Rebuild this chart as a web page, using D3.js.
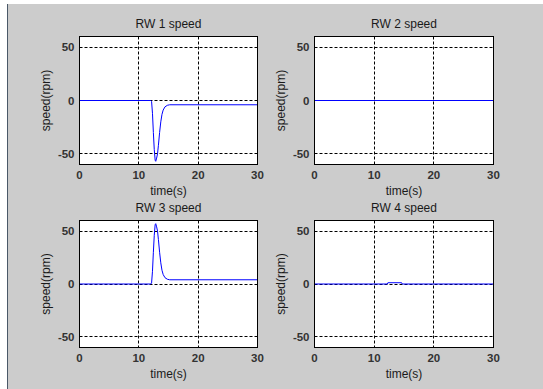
<!DOCTYPE html>
<html>
<head>
<meta charset="utf-8">
<script src="https://cdn.jsdelivr.net/npm/d3@7"></script>
<style>
  body { margin: 0; background: #fff; }
  svg { display: block; }
  text { font-family: "Liberation Sans", Arial, sans-serif; fill: #1a1a1a; }
</style>
</head>
<body>
<script>
// reaction wheel speeds (rpm vs s)
var titles = ["RW 1 speed", "RW 2 speed", "RW 3 speed", "RW 4 speed"];
var xTicks = [0, 10, 20, 30];
var yTicks = [-50, 0, 50];

var rw1Time  = [0, 12.0, 12.15, 12.3, 12.45, 12.6, 12.75, 12.85, 13.0, 13.15, 13.3, 13.5, 13.7, 13.9, 14.1, 14.4, 14.8, 15.2, 30];
var rw1Speed = [0, 0, -1, -12, -30, -46, -56, -57, -54, -50, -42, -30, -20, -13, -9, -6, -4.5, -4, -4];

var rw2Time  = [0, 30];
var rw2Speed = [0, 0];

var rw3Time  = [0, 12.0, 12.15, 12.3, 12.45, 12.6, 12.75, 12.85, 13.0, 13.15, 13.3, 13.5, 13.7, 13.9, 14.1, 14.4, 14.8, 15.2, 30];
var rw3Speed = [0, 0, 1, 12, 30, 46, 56, 57, 54, 50, 42, 30, 20, 13, 9, 6, 4.5, 4, 4];

var rw4Time  = [0, 12.2, 12.3, 14.6, 14.7, 30];
var rw4Speed = [0, 0, 1.2, 1.2, 0, 0];

var series = [
  {t: rw1Time, v: rw1Speed},
  {t: rw2Time, v: rw2Speed},
  {t: rw3Time, v: rw3Speed},
  {t: rw4Time, v: rw4Speed}
];

var W = 543, H = 389;
var svg = d3.select("body").append("svg").attr("width", W).attr("height", H);

// figure background
svg.append("rect").attr("x", 8).attr("y", 4).attr("width", W - 8).attr("height", H - 4).attr("fill", "#cccccc");
svg.append("line").attr("x1", 7.5).attr("x2", 7.5).attr("y1", 4).attr("y2", H)
  .attr("stroke", "#4a5868").attr("stroke-width", 1);

var panels = [
  {x: 79, y: 36, w: 178, h: 128},
  {x: 314, y: 36, w: 179, h: 128},
  {x: 79, y: 220, w: 178, h: 127},
  {x: 314, y: 220, w: 179, h: 127}
];

panels.forEach(function(p, i) {
  var g = svg.append("g").attr("transform", "translate(" + (p.x + 0.5) + "," + (p.y + 0.5) + ")");
  var x = d3.scaleLinear().domain([0, 30]).range([0, p.w]);
  var y = d3.scaleLinear().domain([-60, 60]).range([p.h, 0]);

  g.append("rect").attr("width", p.w).attr("height", p.h).attr("fill", "#fff");

  // dotted grid
  g.selectAll(".vgrid").data(xTicks.slice(1, 3)).enter().append("line")
    .attr("x1", function(d) { return Math.round(x(d)); })
    .attr("x2", function(d) { return Math.round(x(d)); })
    .attr("y1", 0).attr("y2", p.h)
    .attr("stroke", "#000").attr("stroke-dasharray", "3,2");
  g.selectAll(".hgrid").data(yTicks).enter().append("line")
    .attr("x1", 0).attr("x2", p.w)
    .attr("y1", function(d) { return Math.round(y(d)); })
    .attr("y2", function(d) { return Math.round(y(d)); })
    .attr("stroke", "#000").attr("stroke-dasharray", "3,2");

  // data
  var s = series[i];
  var pts = s.t.map(function(t, k) { return [t, s.v[k]]; });
  g.append("path").datum(pts)
    .attr("fill", "none").attr("stroke", "#0000ff").attr("stroke-width", 1)
    .attr("d", d3.line().x(function(d) { return x(d[0]); }).y(function(d) { return y(d[1]); }));

  // box
  g.append("rect").attr("width", p.w).attr("height", p.h)
    .attr("fill", "none").attr("stroke", "#000").attr("stroke-width", 1);

  // tick labels
  g.selectAll(".xl").data(xTicks).enter().append("text")
    .attr("x", function(d) { return x(d); }).attr("y", p.h + 14)
    .attr("text-anchor", "middle").attr("font-size", "11.5px").attr("font-weight", "bold")
    .style("fill", "#333").text(function(d) { return d; });
  g.selectAll(".yl").data(yTicks).enter().append("text")
    .attr("x", -5).attr("y", function(d) { return y(d) + 4; })
    .attr("text-anchor", "end").attr("font-size", "11.5px").attr("font-weight", "bold")
    .style("fill", "#333").text(function(d) { return d; });

  // labels
  g.append("text").attr("x", p.w / 2).attr("y", -9)
    .attr("text-anchor", "middle").attr("font-size", "12px").text(titles[i]);
  g.append("text").attr("x", p.w / 2).attr("y", p.h + 30)
    .attr("text-anchor", "middle").attr("font-size", "12px").text("time(s)");
  g.append("text")
    .attr("transform", "translate(" + (-30) + "," + (p.h / 2) + ") rotate(-90)")
    .attr("text-anchor", "middle").attr("font-size", "12px").text("speed(rpm)");
});
</script>
</body>
</html>
